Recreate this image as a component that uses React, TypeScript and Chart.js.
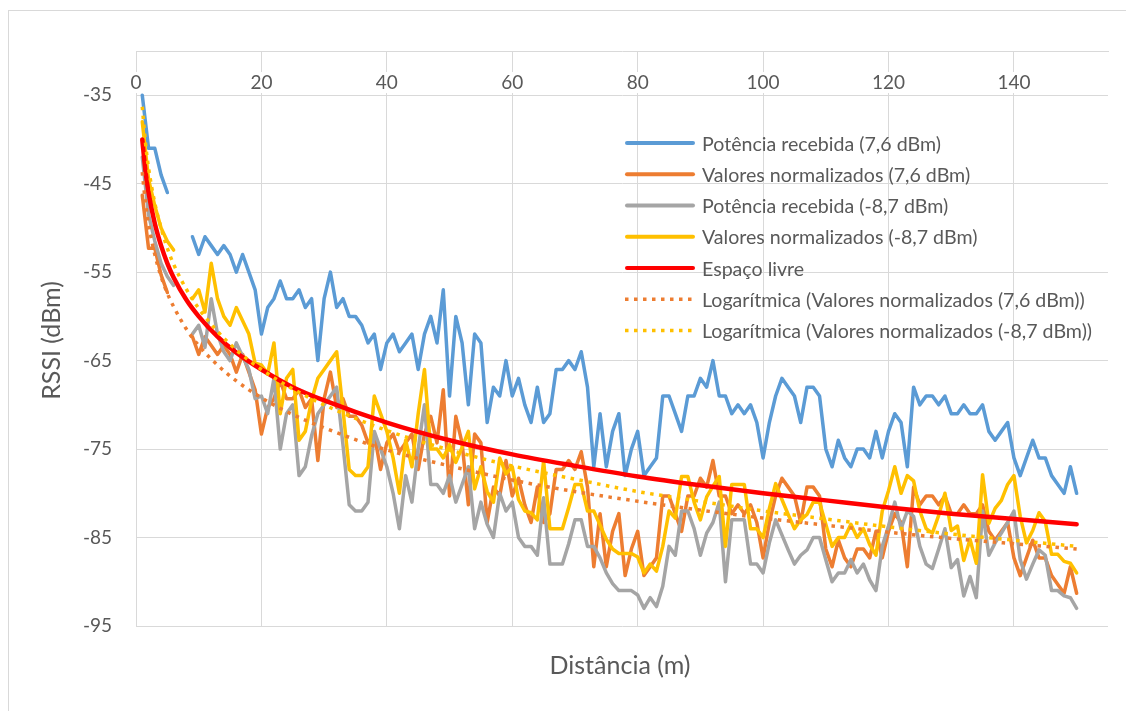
import React, { useEffect, useRef } from 'react';
import { Chart, registerables } from 'chart.js';

Chart.register(...registerables);

// Distance of each measurement (m)
const distances = Array.from({ length: 150 }, (_, i) => i + 1);

// RSSI readings (dBm); null = no reading at that distance
const potencia76 = [
  -35, -41, -41, -44, -46, null, null, null, -51, -53,
  -51, -52, -53, -52, -53, -55, -53, -55, -57, -62,
  -59, -58, -56, -58, -58, -57, -59, -58, -65, -58,
  -55, -59, -58, -60, -60, -61, -63, -62, -66, -63,
  -62, -64, -63, -62, -66, -62, -60, -63, -57, -69,
  -60, -63, -70, -62, -63, -72, -68, -69, -65, -69,
  -67, -70, -72, -68, -72, -71, -66, -66, -65, -66,
  -64, -68, -77, -71, -77, -73, -71, -78, -75, -73,
  -78, -77, -76, -69, -69, -71, -73, -69, -69, -67,
  -68, -65, -69, -69, -71, -70, -71, -70, -72, -76,
  -72, -69, -67, -68, -69, -72, -68, -68, -69, -75,
  -77, -74, -76, -77, -75, -75, -76, -73, -76, -73,
  -71, -72, -77, -68, -70, -69, -69, -70, -69, -71,
  -71, -70, -71, -71, -70, -73, -74, -73, -72, -76,
  -78, -76, -74, -76, -76, -78, -79, -80, -77, -80,
];

const normalizados76 = [
  -46.3, -52.3, -52.3, -55.3, -57.3, null, null, null, -62.3, -64.3,
  -62.3, -63.3, -64.3, -63.3, -64.3, -66.3, -64.3, -66.3, -68.3, -73.3,
  -70.3, -69.3, -67.3, -69.3, -69.3, -68.3, -70.3, -69.3, -76.3, -69.3,
  -66.3, -70.3, -69.3, -71.3, -71.3, -72.3, -74.3, -73.3, -77.3, -74.3,
  -73.3, -75.3, -74.3, -73.3, -77.3, -73.3, -71.3, -74.3, -68.3, -80.3,
  -71.3, -74.3, -81.3, -73.3, -74.3, -83.3, -79.3, -80.3, -76.3, -80.3,
  -78.3, -81.3, -83.3, -79.3, -83.3, -82.3, -77.3, -77.3, -76.3, -77.3,
  -75.3, -79.3, -88.3, -82.3, -88.3, -84.3, -82.3, -89.3, -86.3, -84.3,
  -89.3, -88.3, -87.3, -80.3, -80.3, -82.3, -84.3, -80.3, -80.3, -78.3,
  -79.3, -76.3, -80.3, -80.3, -82.3, -81.3, -82.3, -81.3, -83.3, -87.3,
  -83.3, -80.3, -78.3, -79.3, -80.3, -83.3, -79.3, -79.3, -80.3, -86.3,
  -88.3, -85.3, -87.3, -88.3, -86.3, -86.3, -87.3, -84.3, -87.3, -84.3,
  -82.3, -83.3, -88.3, -79.3, -81.3, -80.3, -80.3, -81.3, -80.3, -82.3,
  -82.3, -81.3, -82.3, -82.3, -81.3, -84.3, -85.3, -84.3, -83.3, -87.3,
  -89.3, -87.3, -85.3, -87.3, -87.3, -89.3, -90.3, -91.3, -88.3, -91.3,
];

const potencia87 = [
  -42, -48.5, -51.5, -54, -55.5, -56.5, null, null, -62, -61,
  -63.5, -58, -62, -64, -65, -63, -64.5, -66, -69.3, -69,
  -71, -67, -75, -71, -70, -78, -77, -73.5, -71, -70,
  -69, -68, -74.5, -81.3, -82, -82, -81, -73, -75, -77,
  -80, -84, -78, -81, -75, -70, -79, -79, -80, -78,
  -81, -79, -77, -84, -81, -83.5, -85, -80, -82, -81,
  -85, -86, -86, -87, -80.5, -88, -88, -88, -85.7, -83,
  -83, -86, -86, -87.3, -89, -90.2, -91, -91, -91, -91.5,
  -93, -91.8, -92.8, -90.5, -86, -87, -82, -82, -84, -87,
  -84.5, -83.3, -81, -90, -83, -83, -83, -88, -88, -89,
  -85.6, -83, -84.7, -86.4, -88, -87, -86.4, -85, -85, -87.5,
  -90, -89, -89, -87.5, -89, -88, -89.8, -91, -86, -83.7,
  -81, -84, -82, -82.6, -86, -88, -88.5, -86.3, -84, -88.4,
  -87.5, -91.6, -89.4, -91.8, -82, -87, -85.6, -84.5, -83.3, -82,
  -87.5, -89.7, -88, -86.4, -87, -91, -91, -91.6, -91.8, -93,
];

const normalizados87 = [
  -38, -44.5, -47.5, -50, -51.5, -52.5, null, null, -58, -57,
  -59.5, -54, -58, -60, -61, -59, -60.5, -62, -65.3, -65.5,
  -66.5, -63, -71, -67, -66, -74, -73, -69.5, -67, -66,
  -65, -64, -70.5, -77.3, -78, -78, -77, -69, -71, -73,
  -76, -80, -74, -77, -71, -66, -75, -75, -76, -74.5,
  -76.5, -74.8, -73, -79.5, -77, -79.8, -81, -76, -77.8, -77,
  -80.7, -82, -82.2, -83, -76.3, -84, -84, -84, -81.6, -79,
  -79, -82, -82, -83.6, -85.2, -86.3, -86.8, -86.8, -86.8, -87.2,
  -89, -88, -88.8, -86, -82, -82.8, -78.1, -78.1, -81, -83,
  -80.4, -79.2, -78.1, -86, -79, -79, -79, -84, -84, -85,
  -81.7, -78.9, -80.7, -82.4, -84, -83, -82.4, -81, -81, -83.5,
  -86, -85, -85, -83.5, -85, -84, -85.8, -87, -82, -79.7,
  -77, -80, -78, -78.6, -82, -84, -84.5, -82.5, -80, -84.2,
  -83.7, -87.6, -85.2, -87.9, -77.9, -83.4, -81.7, -80.8, -79, -78,
  -82.6, -85.6, -84.2, -82.2, -83.2, -86.9, -86.9, -87.7, -87.9, -89,
];

// Smooth curves: free-space reference and the two logarithmic trend lines
const curveDistances = [1, 1.5, 2, 3, 4, 5, 6, 8, 10, 13, 16, 20, 25, 30, 40, 50, 60, 70, 80, 90, 100, 110, 120, 130, 140, 150];
const espacoLivre = [-40, -43.5, -46, -49.5, -52, -54, -55.6, -58.1, -60, -62.3, -64.1, -66, -68, -69.5, -72, -74, -75.6, -76.9, -78.1, -79.1, -80, -80.8, -81.6, -82.3, -82.9, -83.5];
const tendencia76 = [-43.7, -47.1, -49.6, -53, -55.5, -57.4, -58.9, -61.4, -63.3, -65.5, -67.3, -69.2, -71.1, -72.6, -75.1, -76.9, -78.5, -79.8, -80.9, -81.9, -82.8, -83.6, -84.4, -85.1, -85.7, -86.3];
const tendencia87 = [-36.3, -40.3, -43.2, -47.2, -50, -52.3, -54.1, -56.9, -59.1, -61.7, -63.8, -66, -68.2, -70, -72.9, -75.1, -76.9, -78.4, -79.8, -80.9, -82, -82.9, -83.8, -84.6, -85.3, -86];

const xTicks = [0, 20, 40, 60, 80, 100, 120, 140];
const yTicks = [-95, -85, -75, -65, -55, -45, -35];

const seriesNames = [
  'Potência recebida (7,6 dBm)',
  'Valores normalizados (7,6 dBm)',
  'Potência recebida (-8,7 dBm)',
  'Valores normalizados (-8,7 dBm)',
  'Espaço livre',
  'Logarítmica (Valores normalizados (7,6 dBm))',
  'Logarítmica (Valores normalizados (-8,7 dBm))',
];

const BLUE = '#5B9BD5';
const ORANGE = '#ED7D31';
const GRAY = '#A5A5A5';
const GOLD = '#FFC000';
const RED = '#FF0000';
const GRID = '#D9D9D9';
const TEXT = '#595959';
const FONT = 'Lato, "Noto Sans", sans-serif';
const DOTS = [3.5, 5.5];

const toPoints = (xs: number[], ys: (number | null)[]) => xs.map((x, i) => ({ x, y: ys[i] }));

// Axis titles, in-plot x tick labels and the overlaid legend
const decorations = {
  id: 'decorations',
  afterDraw(chart: any) {
    const { ctx, chartArea, scales } = chart;
    ctx.save();

    ctx.font = `19px ${FONT}`;
    ctx.textAlign = 'center';
    ctx.textBaseline = 'alphabetic';
    xTicks.forEach((v) => {
      const x = scales.x.getPixelForValue(v);
      const label = String(v);
      const w = ctx.measureText(label).width;
      ctx.fillStyle = '#ffffff';
      ctx.fillRect(x - w / 2 - 2, 61, w + 4, 21);
      ctx.fillStyle = TEXT;
      ctx.fillText(label, x, 78);
    });

    ctx.font = `25px ${FONT}`;
    ctx.fillStyle = TEXT;
    ctx.fillText('Distância (m)', (chartArea.left + chartArea.right) / 2 - 2, 663);

    ctx.save();
    ctx.translate(51, (chartArea.top + chartArea.bottom) / 2 + 2);
    ctx.rotate(-Math.PI / 2);
    ctx.fillText('RSSI (dBm)', 0, 0);
    ctx.restore();

    const colors = [BLUE, ORANGE, GRAY, GOLD, RED, ORANGE, GOLD];
    ctx.font = `19.6px ${FONT}`;
    ctx.textAlign = 'left';
    seriesNames.forEach((name, i) => {
      const y = 132 + 31.25 * i;
      ctx.beginPath();
      ctx.strokeStyle = colors[i];
      if (i >= 5) {
        ctx.lineWidth = 3.5;
        ctx.lineCap = 'butt';
        ctx.setLineDash(DOTS);
        ctx.moveTo(616, y);
        ctx.lineTo(684, y);
      } else {
        ctx.lineWidth = 4;
        ctx.lineCap = 'round';
        ctx.setLineDash([]);
        ctx.moveTo(618, y);
        ctx.lineTo(684, y);
      }
      ctx.stroke();
      ctx.setLineDash([]);
      ctx.fillStyle = TEXT;
      ctx.fillText(name, 693, y + 7.5);
    });

    ctx.restore();
  },
};

export default function App() {
  const canvasRef = useRef<HTMLCanvasElement | null>(null);

  useEffect(() => {
    const canvas = canvasRef.current;
    if (!canvas) return;

    const lineStyle = {
      pointRadius: 0,
      pointHoverRadius: 0,
      borderWidth: 3.5,
      borderJoinStyle: 'round' as const,
      borderCapStyle: 'round' as const,
      spanGaps: false,
      tension: 0,
      fill: false,
    };

    const chart = new Chart(canvas, {
      type: 'line',
      data: {
        datasets: [
          { ...lineStyle, label: seriesNames[0], data: toPoints(distances, potencia76), borderColor: BLUE, order: 7 },
          { ...lineStyle, label: seriesNames[1], data: toPoints(distances, normalizados76), borderColor: ORANGE, order: 6 },
          { ...lineStyle, label: seriesNames[2], data: toPoints(distances, potencia87), borderColor: GRAY, order: 5 },
          { ...lineStyle, label: seriesNames[3], data: toPoints(distances, normalizados87), borderColor: GOLD, order: 4 },
          {
            ...lineStyle,
            label: seriesNames[4],
            data: toPoints(curveDistances, espacoLivre),
            borderColor: RED,
            borderWidth: 4.5,
            cubicInterpolationMode: 'monotone',
            order: 3,
          },
          {
            ...lineStyle,
            label: seriesNames[5],
            data: toPoints(curveDistances, tendencia76),
            borderColor: ORANGE,
            borderWidth: 3.5,
            borderDash: DOTS,
            borderCapStyle: 'butt',
            cubicInterpolationMode: 'monotone',
            order: 2,
          },
          {
            ...lineStyle,
            label: seriesNames[6],
            data: toPoints(curveDistances, tendencia87),
            borderColor: GOLD,
            borderWidth: 3.5,
            borderDash: DOTS,
            borderCapStyle: 'butt',
            cubicInterpolationMode: 'monotone',
            order: 1,
          },
        ],
      },
      options: {
        responsive: false,
        animation: false,
        events: [],
        layout: { padding: { left: 0, top: 0, right: 26, bottom: 87 } },
        plugins: {
          legend: { display: false },
          tooltip: { enabled: false },
          title: { display: false },
        },
        scales: {
          x: {
            type: 'linear',
            position: 'top',
            min: 0,
            max: 155,
            afterBuildTicks: (scale: any) => {
              scale.ticks = xTicks.map((value) => ({ value }));
            },
            afterFit: (scale: any) => {
              scale.height = 40;
            },
            ticks: { display: false },
            grid: { color: GRID, lineWidth: 1, drawTicks: false },
            border: { color: GRID, width: 1 },
          },
          y: {
            type: 'linear',
            min: -95,
            max: -30,
            afterBuildTicks: (scale: any) => {
              scale.ticks = yTicks.map((value) => ({ value }));
            },
            afterFit: (scale: any) => {
              scale.width = 127;
            },
            ticks: { color: TEXT, font: { family: FONT, size: 19 }, padding: 24 },
            grid: { color: GRID, lineWidth: 1, drawTicks: false },
            border: { color: GRID, width: 1 },
          },
        },
      },
      plugins: [decorations],
    } as any);

    return () => chart.destroy();
  }, []);

  return (
    <div
      style={{
        position: 'relative',
        top: 2,
        width: 1125,
        height: 702,
        borderLeft: `1px solid ${GRID}`,
        borderTop: `1px solid ${GRID}`,
        background: '#ffffff',
      }}
    >
      <canvas ref={canvasRef} width={1125} height={702} style={{ display: 'block' }} />
    </div>
  );
}
